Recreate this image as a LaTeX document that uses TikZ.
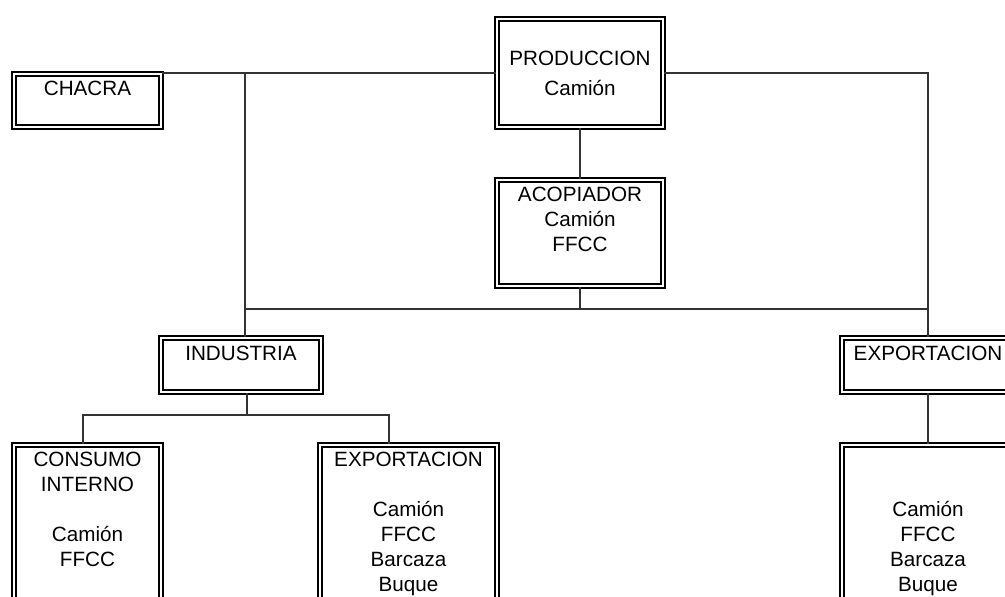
\documentclass[tikz,border=0pt]{standalone}
\usepackage{fontspec}
\setmainfont{Liberation Sans}
\usetikzlibrary{positioning, calc}

\newlength{\pxu}
\setlength{\pxu}{0.025cm}
% box content: width, height, first baseline, lines
\newcommand{\boxtext}[4]{\parbox[c][#2\pxu][t]{#1\pxu}{\centering\rule{0pt}{#3\pxu}#4}}

\tikzset{
  flowbox/.style={draw=black, double=white, line width=2\pxu, double distance=1.6\pxu,
    inner sep=0pt, anchor=north west, font=\fontsize{14.7}{17.8}\selectfont},
  conn/.style={draw=black!80, line width=1.6\pxu}
}

\begin{document}
\begin{tikzpicture}[x=\pxu, y=-\pxu]
  \useasboundingbox (0,0) rectangle (1005,597);
  \fill[white] (0,0) rectangle (1005,597);
  \clip (0,0) rectangle (1005,597);

  % top row
  \node[flowbox] (chacra) at (13,73) {\boxtext{147}{53}{21.4}{CHACRA}};
  \node[flowbox] (produccion) at (496,18) {\boxtext{166}{108}{47}{PRODUCCION\\[4.5\pxu]Camión}};
  \node[flowbox] (acopiador) at (496,179) {\boxtext{166}{106}{21.4}{ACOPIADOR\\Camión\\FFCC}};

  % middle row
  \node[flowbox] (industria) at (160,337) {\boxtext{160}{54}{22}{INDUSTRIA}};
  \node[flowbox] (expright) at (841,337) {\boxtext{172}{54}{22}{EXPORTACION}};

  % bottom row
  \node[flowbox] (consumo) at (13,444) {\boxtext{147}{200}{21.4}{CONSUMO\\INTERNO\\\mbox{}\\Camión\\FFCC}};
  \node[flowbox] (expmid) at (319,444) {\boxtext{177}{200}{21.4}{EXPORTACION\\\mbox{}\\Camión\\FFCC\\Barcaza\\Buque}};
  \node[flowbox] (expbot) at (841,444) {\boxtext{172}{200}{21.4}{\mbox{}\\\mbox{}\\Camión\\FFCC\\Barcaza\\Buque}};

  % junctions
  \coordinate (jtop) at (245,72);
  \coordinate (jmid) at (579,309);
  \coordinate (jbot) at (247,415);

  % connectors
  \draw[conn] (produccion.west) -- (produccion.west -| chacra.east);
  \draw[conn] (produccion.east) -| (expright.north);
  \draw[conn] (jtop) -- (jtop |- industria.north);
  \draw[conn] (produccion.south) -- (acopiador.north);
  \draw[conn] (acopiador.south) -- (acopiador.south |- jmid);
  \draw[conn] (jmid -| jtop) -- (jmid -| expright.north);
  \draw[conn] (jbot |- industria.south) -- (jbot);
  \draw[conn] ([xshift=-4.5\pxu]consumo.north) |- (jbot) -| ([xshift=70\pxu]expmid.north west);
  \draw[conn] (expright.south) -- (expbot.north);
\end{tikzpicture}
\end{document}
